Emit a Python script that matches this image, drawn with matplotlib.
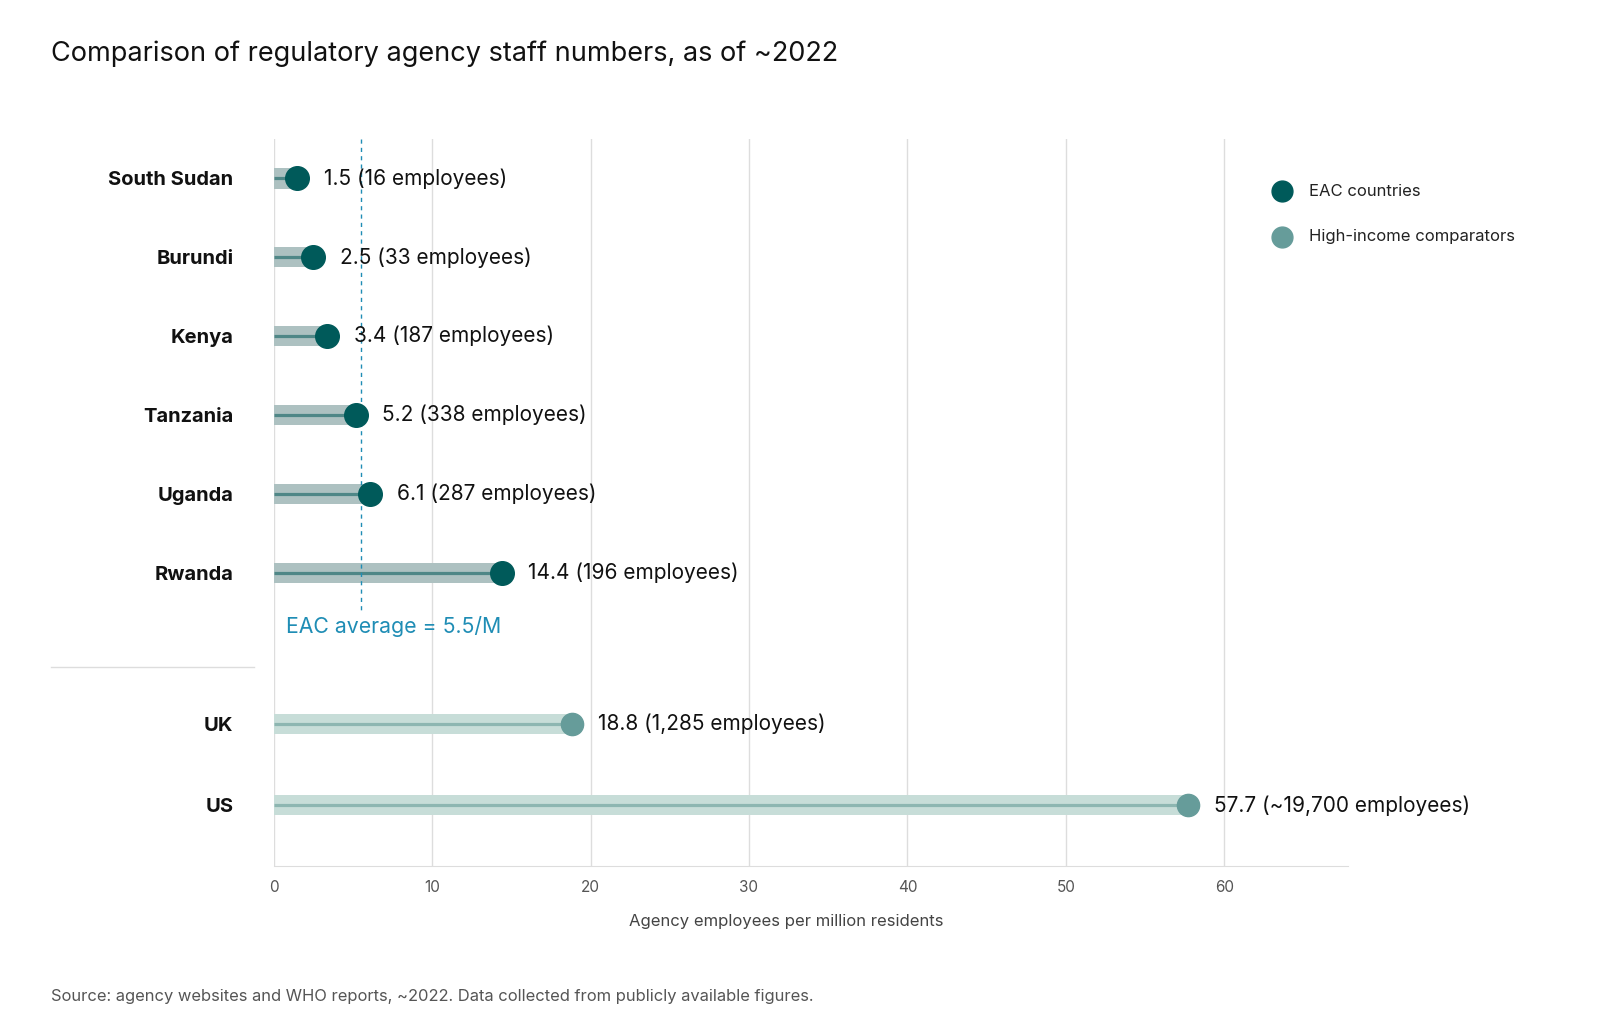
import matplotlib
matplotlib.use("Agg")
import matplotlib.pyplot as plt
from matplotlib.lines import Line2D
from matplotlib.transforms import blended_transform_factory

plt.rcParams['font.family'] = ['Inter', 'DejaVu Sans']

# 数据
eac_countries = ['South Sudan', 'Burundi', 'Kenya', 'Tanzania', 'Uganda', 'Rwanda']
eac_values = [1.5, 2.5, 3.4, 5.2, 6.1, 14.4]
eac_staff = ['16', '33', '187', '338', '287', '196']

hi_countries = ['UK', 'US']
hi_values = [18.8, 57.7]
hi_staff = ['1,285', '~19,700']

eac_average = 5.5
x_ticks = [0, 10, 20, 30, 40, 50, 60]

# 行位置（两组之间留空）
eac_rows = [0, 1, 2, 3, 4, 5]
hi_rows = [6.92, 7.95]

# 颜色
EAC_BAND, EAC_LINE, EAC_DOT = '#adc1c1', '#4f8787', '#005a5a'
HI_BAND, HI_LINE, HI_DOT = '#c7ddd8', '#8db6b1', '#669c9a'
AVG_COLOR = '#1f8db5'

fig = plt.figure(figsize=(16, 10.36), dpi=100)
ax = fig.add_axes([0.171, 0.164, 0.6715, 0.7018])


def draw_group(rows, values, staff, band, line, dot, msize):
    ax.barh(rows, values, height=0.255, color=band, zorder=2)
    for y, v, s in zip(rows, values, staff):
        ax.plot([0, v], [y, y], color=line, lw=2.3, zorder=3, solid_capstyle='butt')
        ax.plot(v, y, 'o', ms=msize, color=dot, zorder=4)
        ax.annotate(f'{v} ({s} employees)', (v, y), xytext=(19, 0),
                    textcoords='offset points', va='center', ha='left',
                    fontsize=15, color='#111111', zorder=5)


draw_group(eac_rows, eac_values, eac_staff, EAC_BAND, EAC_LINE, EAC_DOT, 17)
draw_group(hi_rows, hi_values, hi_staff, HI_BAND, HI_LINE, HI_DOT, 16)

# EAC 平均线
ax.plot([eac_average, eac_average], [-0.5, 5.47], color=AVG_COLOR, lw=1,
        ls=(0, (3, 3)), zorder=3)
ax.text(0.8, 5.68, f'EAC average = {eac_average}/M', color=AVG_COLOR,
        fontsize=15.3, va='center', ha='left')

ax.set_xlim(0, 67.8)
ax.set_ylim(8.72, -0.5)
ax.set_xticks(x_ticks)
ax.set_xticklabels([str(t) for t in x_ticks])
ax.tick_params(axis='x', length=0, pad=10, labelsize=11, labelcolor='#555555')
ax.set_yticks(eac_rows + hi_rows)
ax.set_yticklabels(eac_countries + hi_countries)
ax.tick_params(axis='y', length=0, pad=29, labelsize=14.5)
for lab in ax.get_yticklabels():
    lab.set_fontweight('bold')
    lab.set_color('#111111')
ax.grid(axis='x', color='#dddddd', lw=1, zorder=0)
ax.set_axisbelow(True)
for side in ['top', 'right', 'left']:
    ax.spines[side].set_visible(False)
ax.spines['bottom'].set_color('#dddddd')

ax.set_xlabel('Agency employees per million residents', fontsize=12, color='#444444')
ax.xaxis.set_label_coords(0.477, -0.066)

# 分隔线
trans = blended_transform_factory(fig.transFigure, ax.transData)
fig.add_artist(Line2D([0.032, 0.159], [6.2, 6.2], transform=trans,
                      color='#dddddd', lw=1))

# 图例
for yy, c, lab in [(191, EAC_DOT, 'EAC countries'),
                   (237, HI_DOT, 'High-income comparators')]:
    fy = 1 - yy / 1036
    fig.add_artist(Line2D([1282 / 1600], [fy], marker='o', ms=15, color=c,
                          transform=fig.transFigure, lw=0))
    fig.text(1309 / 1600, fy, lab, fontsize=12, va='center', ha='left', color='#222222')

fig.text(0.032, 1 - 61 / 1036, 'Comparison of regulatory agency staff numbers, as of ~2022',
         fontsize=19.5, va='baseline', ha='left', color='#111111')
fig.text(0.032, 1 - 997 / 1036,
         'Source: agency websites and WHO reports, ~2022. Data collected from publicly available figures.',
         fontsize=11.9, va='center', ha='left', color='#555555')

fig.savefig('out.png', dpi=100)
